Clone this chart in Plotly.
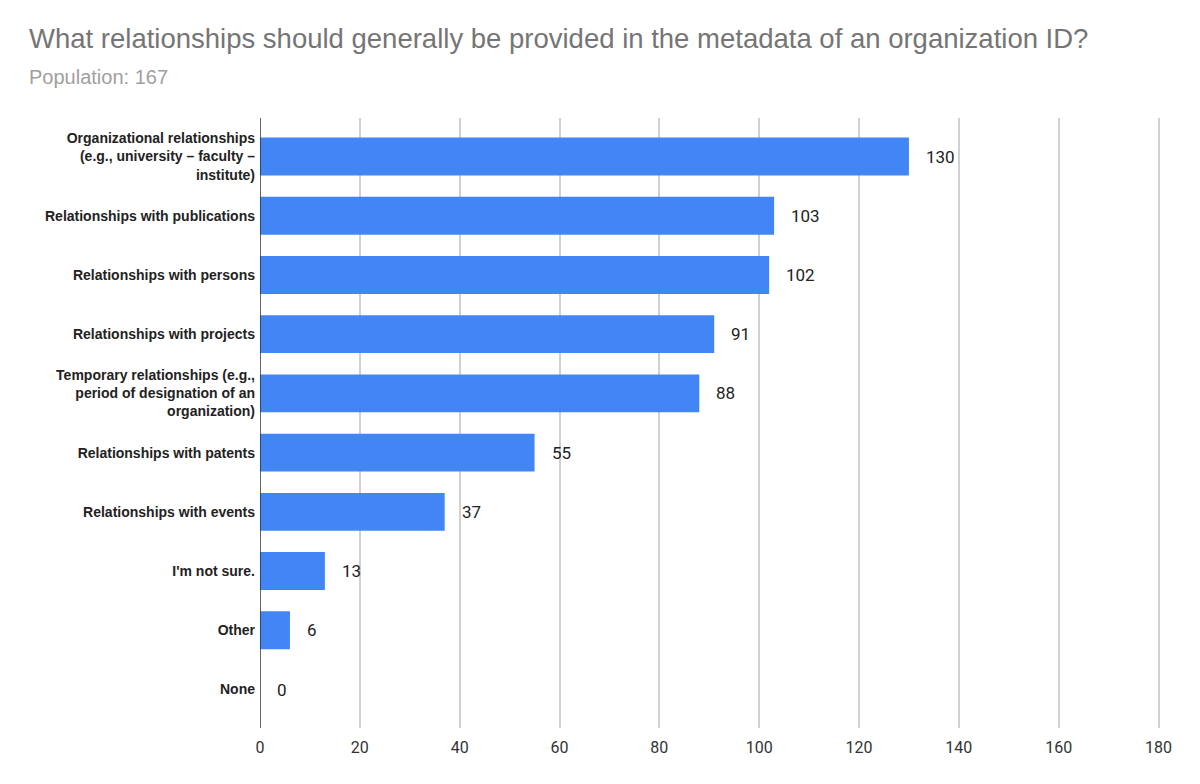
import plotly.graph_objects as go

categories = [
    "Organizational relationships<br>(e.g., university \u2013 faculty \u2013<br>institute)",
    "Relationships with publications",
    "Relationships with persons",
    "Relationships with projects",
    "Temporary relationships (e.g.,<br>period of designation of an<br>organization)",
    "Relationships with patents",
    "Relationships with events",
    "I'm not sure.",
    "Other",
    "None",
]
counts = [130, 103, 102, 91, 88, 55, 37, 13, 6, 0]
x_ticks = [0, 20, 40, 60, 80, 100, 120, 140, 160, 180]

fig = go.Figure(go.Bar(
    x=counts,
    y=categories,
    orientation="h",
    marker=dict(color="#4285f4", line=dict(width=0)),
    width=0.64,
))

# value labels to the right of each bar
for c, n in zip(categories, counts):
    fig.add_annotation(x=n, y=c, text=str(n), showarrow=False,
                       xanchor="left", xshift=15,
                       font=dict(family="Roboto, Arial", size=17, color="#222222"))

# page adds ~8px body margin, so margins are shifted by that
fig.update_layout(
    width=1200, height=784,
    paper_bgcolor="white", plot_bgcolor="white",
    margin=dict(l=252, r=48, t=110, b=64),
    showlegend=False,
    font=dict(family="Liberation Sans, Arial"),
)

fig.add_annotation(text="What relationships should generally be provided in the metadata of an organization ID?",
                   xref="paper", yref="paper", x=(27 - 260) / 900, y=1, yshift=80,
                   xanchor="left", yanchor="middle", showarrow=False,
                   font=dict(family="Liberation Sans, Arial", size=27.5, color="#757575"))
fig.add_annotation(text="Population: 167",
                   xref="paper", yref="paper", x=(27 - 260) / 900, y=1, yshift=41,
                   xanchor="left", yanchor="middle", showarrow=False,
                   font=dict(family="Liberation Sans, Arial", size=20, color="#a0a0a0"))

fig.update_xaxes(range=[0, 180.3], tickvals=x_ticks, showgrid=True, gridcolor="#d0d0d0",
                 gridwidth=1.5, zeroline=False, showline=False, ticks="",
                 ticklabelstandoff=8,
                 tickfont=dict(family="Roboto, Arial", size=16, color="#333333"))
fig.update_yaxes(range=[len(categories) - 1 + 0.65, -0.65], showgrid=False,
                 showline=False, ticks="", ticklabelstandoff=4,
                 tickfont=dict(size=14, color="#222222", weight="bold"))
# dark baseline at zero
fig.add_shape(type="line", xref="x", yref="paper", x0=0, x1=0, y0=0, y1=1,
              line=dict(color="#333333", width=1.5))

fig.write_html("out.html")
